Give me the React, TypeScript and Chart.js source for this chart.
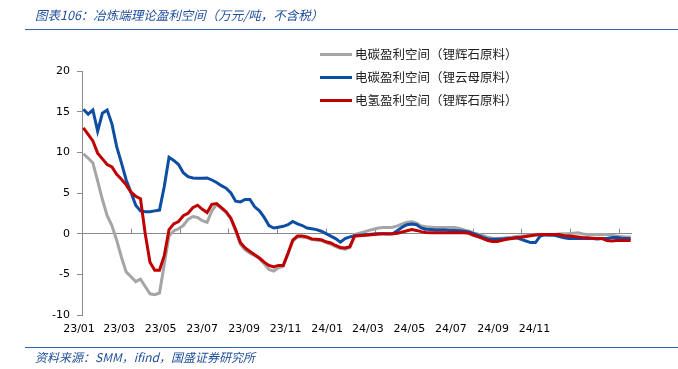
import React, { useEffect, useRef } from "react";
import { Chart, registerables } from "chart.js";

Chart.register(...registerables);

// x axis tick labels (yy/mm), one every two months
const tickLabels = ["23/01", "23/03", "23/05", "23/07", "23/09", "23/11", "24/01", "24/03", "24/05", "24/07", "24/09", "24/11"];

// weekly observations, first one on 2023-01-03
const firstDate = "2023-01-03";
const stepDays = 7;

const grayCarbonSpodumene = [
  9.8, 9.3, 8.7, 6.5, 4.2, 2.2, 1.0, -0.8, -2.9, -4.7,
  -5.3, -5.9, -5.6, -6.5, -7.4, -7.5, -7.3, -3.8, -0.3, 0.35,
  0.6, 1.0, 1.75, 2.1, 2.0, 1.6, 1.4, 2.8, 3.6, 3.1,
  2.6, 1.8, 0.3, -1.3, -2.0, -2.4, -2.7, -3.1, -3.7, -4.4,
  -4.6, -4.2, -4.0, -2.5, -0.9, -0.4, -0.4, -0.5, -0.7, -0.8,
  -0.85, -1.1, -1.3, -1.6, -1.8, -1.9, -1.7, -0.1, 0.05, 0.2,
  0.4, 0.55, 0.7, 0.75, 0.75, 0.8, 0.95, 1.2, 1.4, 1.45,
  1.3, 0.95, 0.85, 0.8, 0.75, 0.75, 0.75, 0.75, 0.75, 0.65,
  0.45, 0.3, 0.1, -0.05, -0.25, -0.45, -0.6, -0.6, -0.55, -0.5,
  -0.45, -0.35, -0.3, -0.25, -0.2, -0.15, -0.1, -0.1, -0.1, -0.1,
  -0.05, 0, 0, 0.05, 0.1, -0.05, -0.1, -0.1, -0.1, -0.1,
  -0.1, -0.2, -0.3, -0.35, -0.4, -0.4,
];

const blueCarbonLepidolite = [
  15.3, 14.7, 15.2, 12.6, 14.8, 15.2, 13.5, 10.7, 8.7, 6.6,
  5.1, 3.5, 2.8, 2.7, 2.7, 2.8, 2.9, 5.8, 9.4, 9.0,
  8.5, 7.5, 7.0, 6.85, 6.8, 6.8, 6.85, 6.6, 6.3, 5.9,
  5.6, 5.0, 4.0, 3.9, 4.2, 4.2, 3.3, 2.8, 2.0, 1.0,
  0.7, 0.8, 0.9, 1.1, 1.5, 1.2, 1.0, 0.7, 0.6, 0.5,
  0.3, 0.0, -0.3, -0.6, -1.05, -0.6, -0.4, -0.25, -0.2, -0.15,
  -0.1, -0.05, 0.0, 0.0, -0.05, 0.0, 0.4, 0.8, 1.1, 1.2,
  1.1, 0.7, 0.55, 0.5, 0.45, 0.45, 0.45, 0.4, 0.4, 0.35,
  0.3, 0.2, 0.0, -0.2, -0.45, -0.65, -0.7, -0.7, -0.65, -0.6,
  -0.55, -0.5, -0.7, -0.9, -1.1, -1.1, -0.3, -0.15, -0.2, -0.2,
  -0.35, -0.5, -0.6, -0.6, -0.6, -0.55, -0.6, -0.6, -0.65, -0.6,
  -0.6, -0.5, -0.45, -0.55, -0.6, -0.6,
];

const redHydroxideSpodumene = [
  13.0, 12.2, 11.4, 9.9, 9.2, 8.5, 8.2, 7.3, 6.7, 6.0,
  5.1, 4.6, 4.3, 0.0, -3.5, -4.5, -4.5, -2.7, 0.5, 1.2,
  1.5, 2.2, 2.5, 3.2, 3.5, 3.0, 2.6, 3.6, 3.7, 3.2,
  2.7, 1.9, 0.5, -1.1, -1.75, -2.2, -2.6, -3.0, -3.5, -3.9,
  -4.1, -3.9, -3.9, -2.4, -0.8, -0.3, -0.3, -0.4, -0.65, -0.7,
  -0.75, -1.0, -1.15, -1.45, -1.7, -1.75, -1.6, -0.3, -0.25, -0.2,
  -0.15, -0.1, -0.05, 0.0, 0.0, 0.0, 0.05, 0.2, 0.35, 0.5,
  0.4, 0.25, 0.15, 0.1, 0.1, 0.1, 0.1, 0.1, 0.1, 0.1,
  0.1, 0.05, -0.2, -0.4, -0.6, -0.85, -0.95, -0.95, -0.8, -0.7,
  -0.6, -0.5, -0.45, -0.35, -0.25, -0.15, -0.1, -0.1, -0.1, -0.1,
  -0.1, -0.25, -0.3, -0.35, -0.4, -0.5, -0.5, -0.55, -0.6, -0.6,
  -0.85, -0.9, -0.85, -0.85, -0.85, -0.85,
];

const seriesNames = ["电碳盈利空间（锂辉石原料）", "电碳盈利空间（锂云母原料）", "电氢盈利空间（锂辉石原料）"];
const seriesColors = ["#a5a5a5", "#0d4ea3", "#c00000"];

const DAY = 86400000;
const epoch = Date.UTC(2023, 0, 1);
const dayOf = (iso: string) => {
  const [y, m, d] = iso.split("-").map(Number);
  return (Date.UTC(y, m - 1, d) - epoch) / DAY;
};
const labelDay = (lab: string) => {
  const [yy, mm] = lab.split("/").map(Number);
  return (Date.UTC(2000 + yy, mm - 1, 1) - epoch) / DAY;
};
const startDay = dayOf(firstDate);
const toPoints = (arr: number[]) => arr.map((v, i) => ({ x: startDay + i * stepDays, y: v }));
const xMax = startDay + (grayCarbonSpodumene.length - 1) * stepDays + 2;

const zeroTickPlugin = {
  id: "zeroTicks",
  beforeDatasetsDraw(chart: any) {
    const { ctx, scales } = chart;
    const x = scales.x;
    const y0 = scales.y.getPixelForValue(0);
    ctx.save();
    ctx.strokeStyle = "#8a8a8a";
    ctx.lineWidth = 1;
    for (let d = 71.8; d < xMax; d += 71.8) {
      const px = Math.round(x.getPixelForValue(d)) + 0.5;
      ctx.beginPath();
      ctx.moveTo(px, y0);
      ctx.lineTo(px, y0 - 5);
      ctx.stroke();
    }
    ctx.restore();
  },
};

export default function App() {
  const canvasRef = useRef<HTMLCanvasElement | null>(null);

  useEffect(() => {
    document.body.style.margin = "0";
    const canvas = canvasRef.current;
    if (!canvas) return;
    const datasets = [grayCarbonSpodumene, blueCarbonLepidolite, redHydroxideSpodumene].map((arr, i) => ({
      label: seriesNames[i],
      data: toPoints(arr),
      borderColor: seriesColors[i],
      backgroundColor: seriesColors[i],
      borderWidth: 3,
      pointRadius: 0,
      tension: 0,
      order: 3 - i,
    }));
    const chart = new Chart(canvas, {
      type: "line",
      data: { datasets },
      plugins: [zeroTickPlugin],
      options: {
        animation: false,
        responsive: false,
        devicePixelRatio: 1,
        layout: { padding: { left: 0, right: 46, top: 71, bottom: 0 } },
        plugins: { legend: { display: false }, tooltip: { enabled: false }, title: { display: false } },
        scales: {
          x: {
            type: "linear",
            min: 0,
            max: xMax,
            border: { display: false },
            grid: { display: false, drawTicks: false },
            afterBuildTicks: (scale: any) => {
              scale.ticks = tickLabels.map((l) => ({ value: labelDay(l) }));
            },
            afterFit: (scale: any) => {
              scale.height = 54;
            },
            ticks: {
              autoSkip: false,
              maxRotation: 0,
              padding: 8,
              labelOffset: -3,
              color: "#000",
              font: { family: "DejaVu Sans", size: 11 },
              callback: (v: any) => {
                const idx = tickLabels.findIndex((l) => labelDay(l) === v);
                return idx >= 0 ? tickLabels[idx] : "";
              },
            },
          },
          y: {
            min: -10,
            max: 20,
            border: { display: true, color: "#8a8a8a", width: 1 },
            grid: {
              color: (c: any) => (c.tick && c.tick.value === 0 ? "#8a8a8a" : "rgba(0,0,0,0)"),
              tickColor: "#8a8a8a",
              drawTicks: true,
              tickLength: 5,
            },
            afterFit: (scale: any) => {
              scale.width = 82;
            },
            ticks: {
              stepSize: 5,
              padding: 7,
              color: "#000",
              font: { family: "DejaVu Sans", size: 11 },
            },
          },
        },
      },
    });
    return () => chart.destroy();
  }, []);

  const cjk = '"Noto Sans CJK SC", "Noto Sans", sans-serif';
  const blueText = "#1f4e9b";

  return (
    <div style={{ position: "relative", width: 678, height: 369, background: "#fff", overflow: "hidden" }}>
      <canvas ref={canvasRef} width={678} height={369} style={{ position: "absolute", left: 0, top: 0, width: 678, height: 369 }} />
      <div style={{ position: "absolute", left: 35, top: 6, fontFamily: cjk, fontSize: 12.5, fontStyle: "italic", color: blueText, lineHeight: "18px", whiteSpace: "nowrap" }}>
        图表106：冶炼端理论盈利空间（万元/吨，不含税）
      </div>
      <div style={{ position: "absolute", left: 25, right: 0, top: 29, height: 1, background: "#3a62a6" }} />
      <div style={{ position: "absolute", left: 25, right: 0, top: 347, height: 1, background: "#3a62a6" }} />
      <div style={{ position: "absolute", left: 35, top: 348, fontFamily: cjk, fontSize: 12, fontStyle: "italic", color: blueText, lineHeight: "18px", whiteSpace: "nowrap" }}>
        资料来源：SMM，ifind，国盛证券研究所
      </div>
      {seriesNames.map((name, i) => (
        <div key={name} style={{ position: "absolute", left: 320, top: 45 + i * 23, height: 18, display: "flex", alignItems: "center", whiteSpace: "nowrap" }}>
          <div style={{ width: 32, height: 3, background: seriesColors[i], marginRight: 3 }} />
          <span style={{ fontFamily: cjk, fontSize: 12.5, color: "#222", lineHeight: "18px" }}>{name}</span>
        </div>
      ))}
    </div>
  );
}
